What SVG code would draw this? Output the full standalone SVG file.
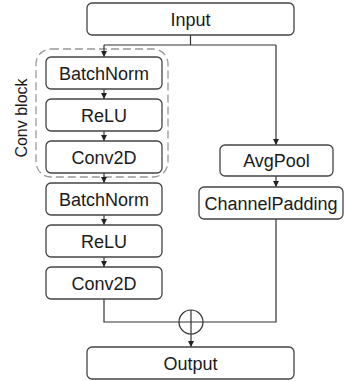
<svg xmlns="http://www.w3.org/2000/svg" width="345" height="381" viewBox="0 0 345 381">
<style>
.box{fill:#fff;stroke:#444;stroke-width:1.3}
.lbl{font-family:"Liberation Sans",Arial,sans-serif;font-size:18px;fill:#1a1a1a;text-anchor:middle}
.ln{fill:none;stroke:#333;stroke-width:1.2}
</style>
<defs>
<marker id="arr" markerUnits="userSpaceOnUse" markerWidth="7" markerHeight="6" refX="6" refY="3" orient="auto">
<path d="M0,0 L6,3 L0,6 z" fill="#222"/>
</marker>
</defs>
<rect x="36" y="49" width="132" height="128" rx="15" fill="none" stroke="#999" stroke-width="1.3" stroke-dasharray="8,4"/>
<text transform="translate(27,118) rotate(-90)" class="lbl" style="font-size:16px">Conv block</text>
<g id="connectors">
<path class="ln" d="M190.5,35 V45 M104,45 H276"/>
<path class="ln" d="M104,45 V57" marker-end="url(#arr)"/>
<path class="ln" d="M276,45 V145" marker-end="url(#arr)"/>
<path class="ln" d="M104,89 V99" marker-end="url(#arr)"/>
<path class="ln" d="M104,131 V141" marker-end="url(#arr)"/>
<path class="ln" d="M104,173 V183" marker-end="url(#arr)"/>
<path class="ln" d="M104,215 V225" marker-end="url(#arr)"/>
<path class="ln" d="M104,257 V267" marker-end="url(#arr)"/>
<path class="ln" d="M276,176 V187" marker-end="url(#arr)"/>
<path class="ln" d="M104,299 V322 H276 V219"/>
<circle class="ln" cx="191" cy="322" r="12"/>
<path class="ln" d="M191,310 V347" marker-end="url(#arr)"/>
</g>
<g id="input"><rect class="box" x="87" y="3" width="207" height="32" rx="5"/><text class="lbl" x="190.5" y="25.5">Input</text></g>
<g id="bn1"><rect class="box" x="46" y="57" width="116" height="32" rx="5"/><text class="lbl" x="104" y="79.5">BatchNorm</text></g>
<g id="relu1"><rect class="box" x="46" y="99" width="116" height="32" rx="5"/><text class="lbl" x="104" y="121.5">ReLU</text></g>
<g id="conv1"><rect class="box" x="46" y="141" width="116" height="32" rx="5"/><text class="lbl" x="104" y="163.5">Conv2D</text></g>
<g id="bn2"><rect class="box" x="46" y="183" width="116" height="32" rx="5"/><text class="lbl" x="104" y="205.5">BatchNorm</text></g>
<g id="relu2"><rect class="box" x="46" y="225" width="116" height="32" rx="5"/><text class="lbl" x="104" y="247.5">ReLU</text></g>
<g id="conv2"><rect class="box" x="46" y="267" width="116" height="32" rx="5"/><text class="lbl" x="104" y="289.5">Conv2D</text></g>
<g id="avgpool"><rect class="box" x="220" y="145" width="113" height="31" rx="5"/><text class="lbl" x="276.5" y="167">AvgPool</text></g>
<g id="channelpadding"><rect class="box" x="199" y="187" width="144" height="32" rx="5"/><text class="lbl" x="271" y="209.5">ChannelPadding</text></g>
<g id="output"><rect class="box" x="87" y="347" width="207" height="32" rx="5"/><text class="lbl" x="190.5" y="369.5">Output</text></g>
</svg>
